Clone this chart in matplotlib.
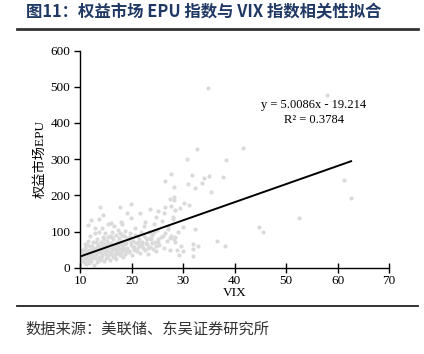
import matplotlib.pyplot as plt
from matplotlib.lines import Line2D

# VIX 与权益市场 EPU 散点
vix = [10.2, 10.5, 10.6, 10.8, 10.9, 11.0, 11.1, 11.2, 11.3, 11.4, 11.5, 11.6, 11.7, 11.8, 11.9,
       12.0, 12.1, 12.2, 12.3, 12.4, 12.5, 12.6, 12.7, 12.8, 12.9, 13.0, 13.1, 13.2, 13.3, 13.4,
       13.5, 13.6, 13.7, 13.8, 13.9, 14.0, 14.1, 14.2, 14.3, 14.4, 14.5, 14.6, 14.7, 14.8, 14.9,
       15.0, 15.1, 15.2, 15.3, 15.4, 15.5, 15.6, 15.7, 15.8, 15.9, 16.0, 16.1, 16.2, 16.3, 16.4,
       16.5, 16.6, 16.7, 16.8, 16.9, 17.0, 17.1, 17.2, 17.3, 17.4, 17.5, 17.6, 17.7, 17.8, 17.9,
       18.0, 18.1, 18.2, 18.3, 18.4, 18.5, 18.6, 18.7, 18.8, 18.9, 19.0, 19.2, 19.4, 19.6, 19.8,
       20.0, 20.2, 20.4, 20.6, 20.8, 21.0, 21.2, 21.4, 21.6, 21.8, 22.0, 22.2, 22.4, 22.6, 22.8,
       23.0, 23.2, 23.4, 23.6, 23.8, 24.0, 24.2, 24.4, 24.6, 24.8, 25.0, 25.3, 25.6, 25.9, 26.2,
       26.5, 26.8, 27.1, 27.4, 27.7, 28.0, 28.5, 29.0, 29.5,
       10.3, 10.7, 11.0, 11.3, 11.6, 11.9, 12.2, 12.5, 12.8, 13.1, 13.4, 13.7, 14.0, 14.3, 14.6,
       14.9, 15.2, 15.5, 15.8, 16.1, 16.4, 16.7, 17.0, 17.3, 17.6, 17.9, 18.2, 18.5, 18.8, 19.1,
       19.5, 19.9, 20.3, 20.7, 21.1, 21.5, 21.9, 22.3, 22.7, 23.1, 23.5, 23.9, 24.3, 24.7, 25.1,
       10.4, 10.9, 11.4, 11.8, 12.3, 12.7, 13.2, 13.6, 14.1, 14.5, 15.0, 15.4, 15.9, 16.3, 16.8,
       17.2, 17.7, 18.1, 18.6, 19.0, 19.7, 20.5, 21.3, 22.1, 23.0, 24.0, 25.2, 26.0, 27.0, 28.2,
       13.9, 17.8, 19.9, 19.1, 14.4, 13.6, 12.1, 21.6, 23.5, 25.1, 26.5, 27.7, 28.3, 26.5, 16.0,
       18.0, 11.5, 12.8, 19.9, 22.5, 24.8, 26.3,
       32.7, 41.6, 30.8, 38.3, 27.7, 31.7, 35.0, 34.1, 37.8, 31.0, 33.7, 28.3, 32.3, 35.4, 27.5,
       28.3, 30.2, 31.2, 29.4, 28.4, 28.1, 30.0, 32.3, 44.8, 45.5, 28.4, 27.5, 31.9, 32.9, 36.6,
       38.2, 28.8, 30.0, 31.9, 29.2, 31.9, 57.9, 34.9, 61.3, 62.6, 52.5]
epu = [30, 22, 40, 15, 55, 28, 10, 45, 62, 20, 35, 75, 12, 50, 25,
       88, 40, 18, 60, 32, 70, 8, 48, 95, 27, 55, 38, 80, 15, 65,
       45, 100, 30, 58, 22, 72, 42, 110, 35, 85, 50, 18, 65, 40, 95,
       28, 60, 75, 45, 120, 33, 55, 88, 20, 68, 42, 100, 52, 30, 78,
       62, 115, 38, 48, 90, 25, 70, 58, 105, 40, 82, 52, 35, 95, 65,
       45, 120, 75, 30, 58, 88, 48, 102, 38, 68, 55, 80, 42, 95, 62,
       35, 75, 50, 110, 68, 45, 88, 60, 40, 98, 72, 55, 115, 48, 82,
       65, 38, 100, 58, 78, 90, 52, 120, 70, 45, 105, 62, 85, 130, 55,
       95, 75, 115, 48, 88, 135, 70, 100, 60,
       18, 35, 50, 28, 42, 60, 25, 45, 38, 70, 22, 52, 30, 60, 78,
       48, 36, 65, 40, 85, 55, 30, 48, 72, 62, 40, 90, 66, 52, 82,
       45, 70, 58, 90, 52, 78, 62, 88, 68, 55, 82, 68, 98, 60, 80,
       48, 65, 20, 36, 52, 30, 58, 42, 25, 68, 50, 85, 38, 55, 62,
       40, 72, 55, 66, 45, 85, 58, 72, 62, 80, 95, 72, 88, 108, 80,
       167, 169, 175, 152, 147, 134, 132, 150, 161, 157, 167, 170, 196, 240, 123,
       127, 118, 109, 136, 127, 141, 150,
       329, 331, 301, 298, 260, 257, 254, 249, 251, 232, 235, 224, 221, 210, 191,
       188, 180, 174, 166, 160, 141, 113, 107, 113, 99, 86, 83, 66, 61, 75,
       61, 50, 47, 52, 36, 33, 477, 497, 243, 194, 138]

slope = 5.0086
intercept = -19.214
r2 = 0.3784
xticks = [10, 20, 30, 40, 50, 60, 70]
yticks = [0, 100, 200, 300, 400, 500, 600]

serif = ['Liberation Serif', 'Noto Sans CJK SC']
cjk = ['Noto Sans CJK SC', 'DejaVu Sans']

fig = plt.figure(figsize=(4.24, 3.54), dpi=100)
ax = fig.add_axes([0.189, 0.2438, 0.729, 0.6132])

ax.scatter(vix, epu, s=9, color='#DADADA', linewidths=0, zorder=2)

xmin, xmax = min(vix), max(vix)
ax.plot([xmin, xmax], [slope * xmin + intercept, slope * xmax + intercept],
        color='black', lw=1.4, zorder=3)

ax.text(55.4, 449, 'y = 5.0086x - 19.214', ha='center', va='center',
        family=serif, fontsize=9)
ax.text(55.4, 409, 'R² = %.4f' % r2, ha='center', va='center',
        family=serif, fontsize=9)

ax.set_xlim(10, 70)
ax.set_ylim(0, 600)
ax.set_xticks(xticks)
ax.set_yticks(yticks)
for s in ['top', 'right']:
    ax.spines[s].set_visible(False)
for s in ['left', 'bottom']:
    ax.spines[s].set_linewidth(1.0)
ax.tick_params(axis='x', direction='inout', length=7, width=1.0, pad=1.5)
ax.tick_params(axis='y', direction='out', length=4, width=1.0, pad=3)
for lab in ax.get_xticklabels() + ax.get_yticklabels():
    lab.set_family(serif)
    lab.set_fontsize(9.5)

ax.set_xlabel('VIX', family=serif, fontsize=9.5, labelpad=0)
ax.set_ylabel('权益市场EPU', family=serif, fontsize=9.5, labelpad=3)

fig.text(0.062, 0.966, '图11：权益市场 EPU 指数与 VIX 指数相关性拟合', family=cjk,
         fontsize=11.8, fontweight='bold', color='#1F3864', va='center', ha='left')
fig.add_artist(Line2D([0.04, 0.986], [0.918, 0.918], color='#333333', lw=2.0))
fig.add_artist(Line2D([0.04, 0.986], [0.136, 0.136], color='#222222', lw=1.3))
fig.text(0.061, 0.071, '数据来源：美联储、东吴证券研究所', family=cjk,
         fontsize=11, color='#333333', va='center', ha='left')

fig.savefig('out.png', dpi=100)
